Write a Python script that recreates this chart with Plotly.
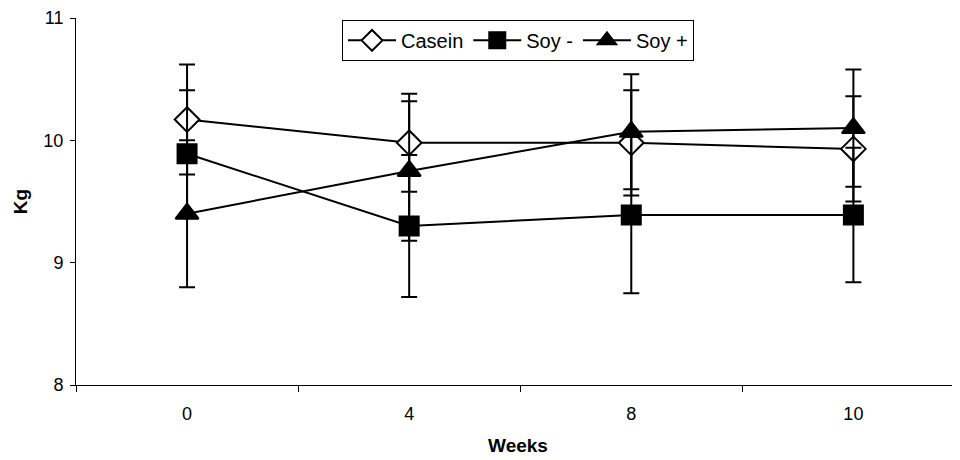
import plotly.graph_objects as go

weeks = ["0", "4", "8", "10"]
casein = [10.17, 9.98, 9.98, 9.93]
casein_err = [0.45, 0.40, 0.43, 0.43]
soy_minus = [9.89, 9.30, 9.39, 9.39]
soy_minus_err = [0.52, 0.58, 0.64, 0.55]
soy_plus = [9.40, 9.75, 10.07, 10.10]
soy_plus_err = [0.60, 0.57, 0.47, 0.48]

font_family = "Arial, Liberation Sans, sans-serif"

fig = go.Figure()

def add(name, y, err, symbol, size, fill):
    fig.add_trace(go.Scatter(
        x=weeks, y=y, name=name, mode="lines+markers",
        line=dict(color="black", width=2),
        marker=dict(symbol=symbol, size=size, color=fill,
                    line=dict(color="black", width=2)),
        error_y=dict(type="data", array=err, visible=True,
                     color="black", thickness=2, width=8),
    ))

add("Casein", casein, casein_err, "diamond", 19, "white")
add("Soy -", soy_minus, soy_minus_err, "square", 19, "black")
add("Soy +", soy_plus, soy_plus_err, "triangle-up", 20, "black")

fig.update_layout(
    width=952, height=452,
    margin=dict(l=68, r=0, t=8, b=75),
    plot_bgcolor="white", paper_bgcolor="white",
    font=dict(family=font_family, color="black", size=18),
    showlegend=True,
    legend=dict(orientation="h", x=0.5, xanchor="center", y=0.995, yanchor="top",
                bordercolor="black", borderwidth=1, bgcolor="white",
                font=dict(size=20), itemwidth=48, tracegroupgap=0),
    xaxis=dict(type="category", range=[-0.5, 3.48], showline=True,
               linecolor="black", linewidth=1, ticks="outside",
               tickson="boundaries", ticklen=6, tickcolor="black",
               showgrid=False, zeroline=False, ticklabelstandoff=12,
               tickfont=dict(size=18),
               title=dict(text="<b>Weeks</b>", font=dict(size=19), standoff=16)),
    yaxis=dict(range=[8, 11], tickvals=[8, 9, 10, 11], showline=True,
               linecolor="black", linewidth=1, ticks="outside", ticklen=5,
               tickcolor="black", showgrid=False, zeroline=False,
               ticklabelstandoff=3, ticklabeloverflow="allow",
               tickfont=dict(size=18),
               title=dict(text="<b>Kg</b>", font=dict(size=19), standoff=10)),
)

fig.write_html("out.html")
